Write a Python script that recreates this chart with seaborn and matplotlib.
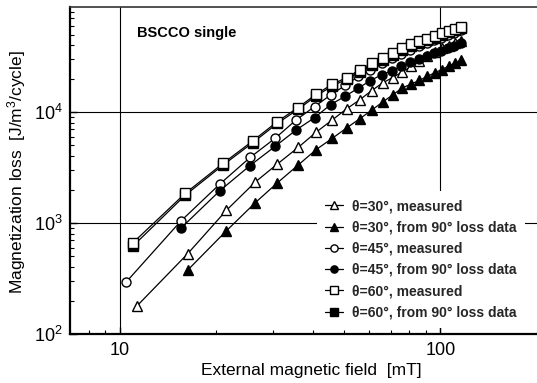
import matplotlib
matplotlib.use('Agg')
import matplotlib.pyplot as plt
import seaborn as sns
from matplotlib.ticker import LogLocator, NullFormatter

sns.set_theme(style='white')
plt.rcParams['font.family'] = ['Liberation Sans', 'DejaVu Sans']
plt.rcParams['mathtext.fontset'] = 'custom'
plt.rcParams['mathtext.rm'] = 'Liberation Sans'
plt.rcParams['mathtext.it'] = 'Liberation Sans:italic'
plt.rcParams['mathtext.bf'] = 'Liberation Sans:bold'

# ---- data ----
tri_open_x = [11.3, 16.3, 21.5, 26.5, 31, 36, 41, 46, 51, 56, 61, 66, 71, 76, 81, 86, 91, 96, 101, 106, 111, 116]
tri_open_y = [178, 530, 1300, 2350, 3400, 4800, 6600, 8500, 10700, 12900, 15600, 18300, 20500, 23000, 25800,
              29000, 32300, 35000, 37500, 39500, 41800, 44000]

tri_fill_x = [16.3, 21.5, 26.5, 31, 36, 41, 46, 51, 56, 61, 66, 71, 76, 81, 86, 91, 96, 101, 106, 111, 116]
tri_fill_y = [377, 850, 1530, 2300, 3330, 4600, 5800, 7200, 8700, 10400, 12300, 14300, 16500, 17900, 19300,
              21000, 22600, 24200, 25900, 27600, 29400]

cir_open_x = [10.5, 15.5, 20.5, 25.5, 30.5, 35.5, 40.5, 45.5, 50.5, 55.5, 60.5, 65.5, 70.5, 75.5, 80.5, 85.5,
              90.5, 95.5, 100.5, 105.5, 110.5, 115.5]
cir_open_y = [296, 1040, 2240, 3900, 5800, 8500, 11200, 14300, 17400, 21000, 24200, 27500, 30500, 33500, 36500,
              39500, 42000, 44500, 47000, 49500, 52000, 54500]

cir_fill_x = [15.5, 20.5, 25.5, 30.5, 35.5, 40.5, 45.5, 50.5, 55.5, 60.5, 65.5, 70.5, 75.5, 80.5, 85.5,
              90.5, 95.5, 100.5, 105.5, 110.5, 115.5]
cir_fill_y = [896, 1950, 3300, 4900, 6900, 8900, 11700, 13900, 16500, 19200, 21700, 23500, 26000, 28000, 29800,
              31800, 33800, 35800, 37800, 39800, 41800]

sq_open_x = [11, 16, 21, 26, 31, 36, 41, 46, 51, 56, 61, 66, 71, 76, 81, 86, 91, 96, 101, 106, 111, 116]
sq_open_y = [664, 1850, 3450, 5500, 8200, 11000, 14500, 17800, 20500, 24000, 27500, 30500, 34000, 37500, 41000,
             43500, 46000, 48500, 51500, 54000, 56500, 59000]

sq_fill_x = [11, 16, 21, 26, 31, 36, 41, 46, 51, 56, 61, 66, 71, 76, 81, 86, 91, 96, 101, 106, 111, 116]
sq_fill_y = [620, 1780, 3330, 5300, 7900, 10600, 14000, 17200, 19800, 23200, 26600, 29500, 32900, 36300, 39700,
             42100, 44500, 47000, 49900, 52300, 54700, 57100]

labels = ['θ=30°, measured', 'θ=30°, from 90° loss data',
          'θ=45°, measured', 'θ=45°, from 90° loss data',
          'θ=60°, measured', 'θ=60°, from 90° loss data']

x_ticks = [10, 100]
x_ticklabels = ['10', '100']
y_ticks = [100, 1000, 10000]
y_ticklabels = ['$10^{2}$', '$10^{3}$', '$10^{4}$']

# ---- figure ----
W, H = 537, 383
fig = plt.figure(figsize=(W / 100, H / 100), dpi=100)
ax = fig.add_axes([70 / W, 49 / H, 467 / W, 326.7 / H])
ax.set_xscale('log')
ax.set_yscale('log')

series = [
    (tri_open_x, tri_open_y, '^', 'white', 7, labels[0]),
    (tri_fill_x, tri_fill_y, '^', 'black', 7, labels[1]),
    (cir_open_x, cir_open_y, 'o', 'white', 6.5, labels[2]),
    (cir_fill_x, cir_fill_y, 'o', 'black', 6.5, labels[3]),
    (sq_fill_x, sq_fill_y, 's', 'black', 6.5, labels[5]),
    (sq_open_x, sq_open_y, 's', 'white', 6.5, labels[4]),
]
handles = {}
for xs, ys, mk, fc, ms, lab in series:
    sns.lineplot(x=xs, y=ys, ax=ax, color='black', linewidth=0.9, marker=mk,
                 markersize=ms, markerfacecolor=fc, markeredgecolor='black',
                 markeredgewidth=1.0, estimator=None, sort=False, label=lab, zorder=3)
    handles[lab] = ax.lines[-1]

ax.set_xlim(7, 200)
ax.set_ylim(100, 88000)
ax.set_xlabel('')
ax.set_ylabel('')

ax.set_xticks(x_ticks)
ax.set_xticklabels(x_ticklabels)
ax.set_yticks(y_ticks)
ax.set_yticklabels(y_ticklabels)
ax.xaxis.set_minor_locator(LogLocator(base=10, subs=range(2, 10)))
ax.yaxis.set_minor_locator(LogLocator(base=10, subs=range(2, 10)))
ax.xaxis.set_minor_formatter(NullFormatter())
ax.yaxis.set_minor_formatter(NullFormatter())
ax.tick_params(which='both', direction='in', color='black', labelsize=13, labelcolor='black')
ax.tick_params(which='major', length=5, width=1.0)
ax.tick_params(which='minor', length=3, width=0.8)
ax.tick_params(axis='x', which='both', bottom=True, top=False, pad=6)
ax.tick_params(axis='y', which='both', left=True, right=False, pad=5)

ax.grid(which='major', color='black', linewidth=0.8)
ax.grid(which='minor', visible=False)
ax.set_axisbelow(True)

for s in ['left', 'bottom']:
    ax.spines[s].set_color('black')
    ax.spines[s].set_linewidth(1.6)
ax.spines['top'].set_color('#333333')
ax.spines['top'].set_linewidth(1.2)
ax.spines['right'].set_visible(False)

ax.text(0.143, 0.92, 'BSCCO single', transform=ax.transAxes, fontsize=10.5,
        fontweight='bold', ha='left', va='center', color='black')

order = labels
leg = ax.legend([handles[l] for l in order], order, loc='upper left',
                bbox_to_anchor=(310 / W, 1 - 184 / H), bbox_transform=fig.transFigure,
                frameon=True, facecolor='white', edgecolor='none', framealpha=1,
                fancybox=False, borderpad=0.6, handlelength=1.3, handletextpad=0.6,
                labelspacing=0.52, prop={'size': 10, 'weight': 'bold'}, numpoints=1,
                markerscale=0.8)
leg.set_zorder(5)

fig.text(17 / W, 1 - 172 / H, 'Magnetization loss  [J/m$^3$/cycle]', rotation=90,
         ha='center', va='center', fontsize=12.5, color='black')
fig.text(311.5 / W, 1 - 370 / H, 'External magnetic field  [mT]', ha='center', va='center',
         fontsize=12.5, color='black')

fig.savefig('out.png', dpi=100)
